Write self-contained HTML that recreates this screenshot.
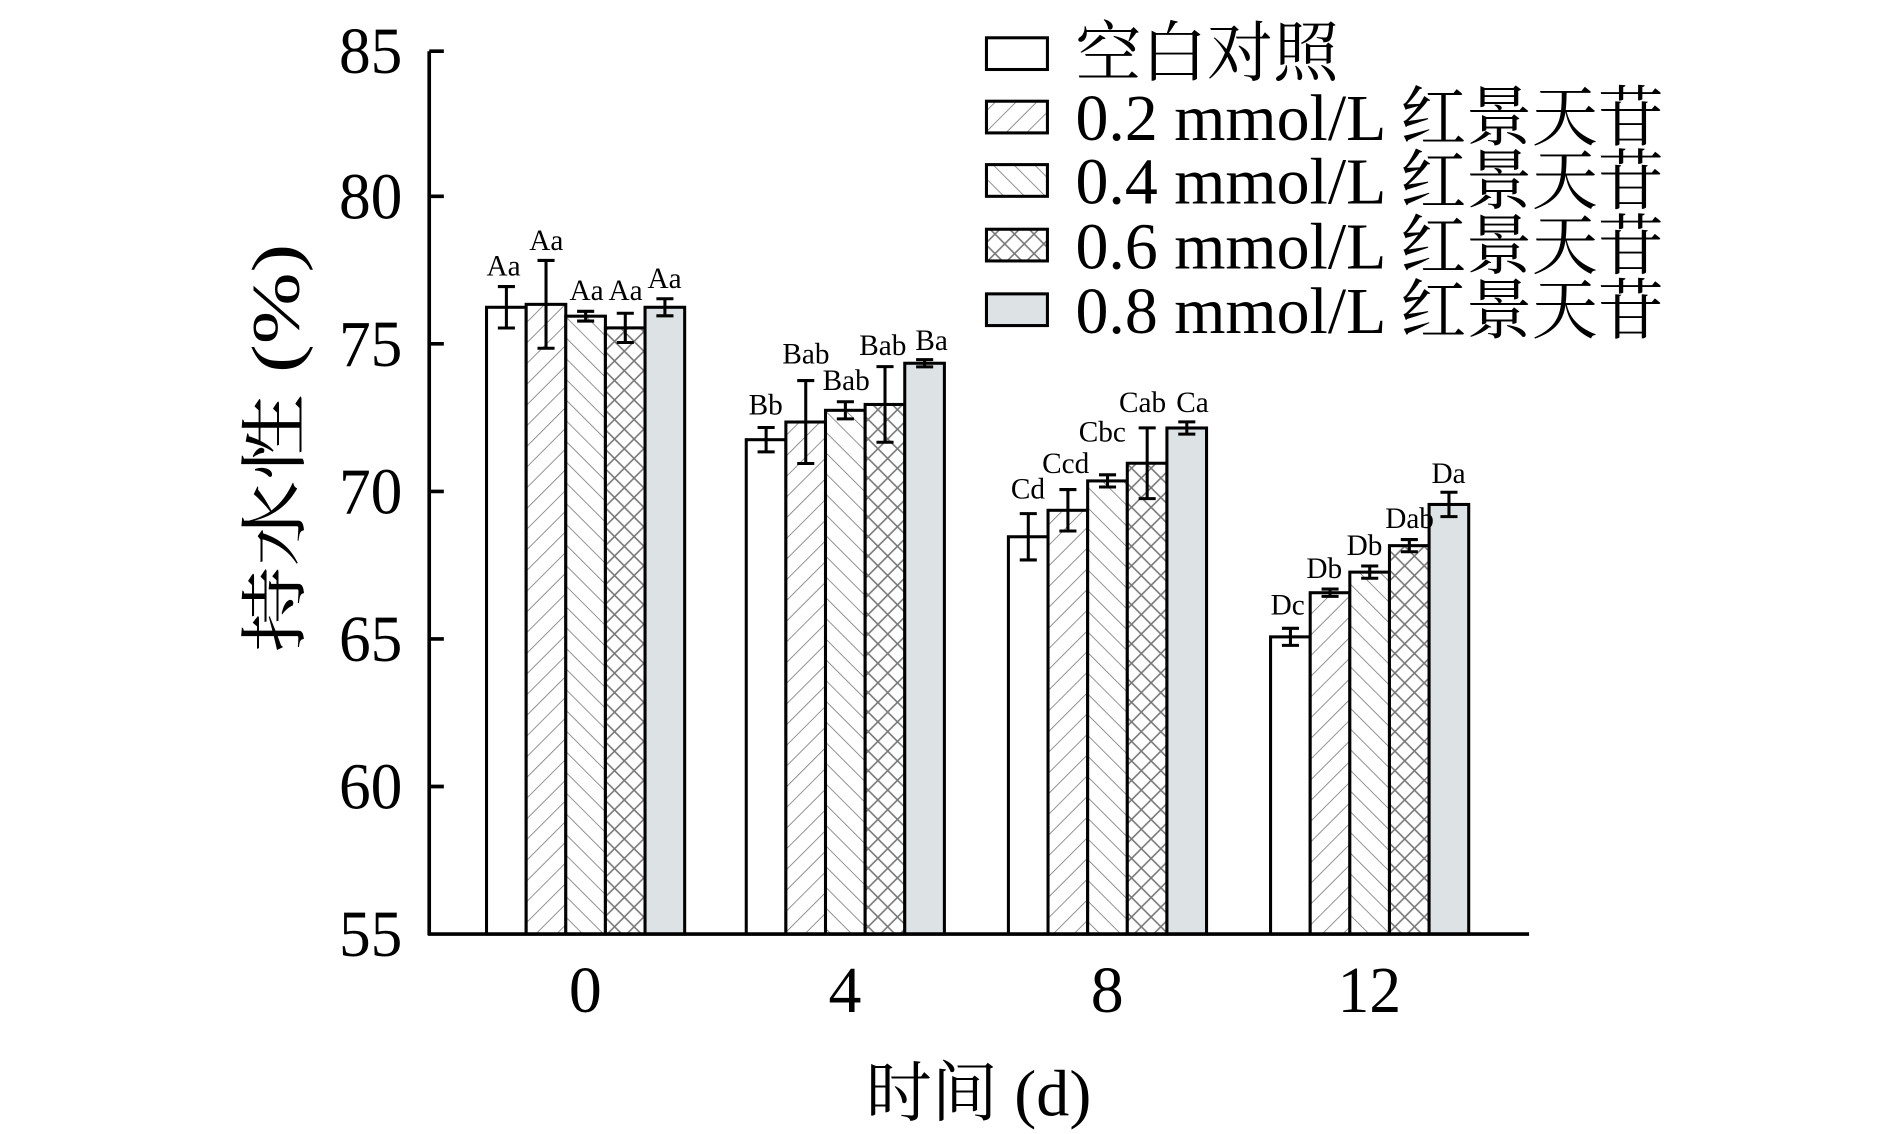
<!DOCTYPE html>
<html><head><meta charset="utf-8"><style>
html,body{margin:0;padding:0;background:#fff;}
svg{display:block;}
text{font-family:"Liberation Serif","Noto Serif CJK SC","Noto Sans CJK SC",serif;fill:#000;}
</style></head><body>
<svg width="1890" height="1134" viewBox="0 0 1550 930" xmlns="http://www.w3.org/2000/svg">
<defs>
<pattern id="p2" width="12" height="12" patternUnits="userSpaceOnUse" patternTransform="rotate(45)"><rect width="12" height="12" fill="#fff"/><line x1="0" y1="0" x2="0" y2="12" stroke="#777" stroke-width="1.3"/></pattern>
<pattern id="p4" width="12" height="12" patternUnits="userSpaceOnUse" patternTransform="rotate(-45)"><rect width="12" height="12" fill="#fff"/><line x1="0" y1="0" x2="0" y2="12" stroke="#777" stroke-width="1.3"/></pattern>
<pattern id="p6" width="16" height="16" patternUnits="userSpaceOnUse"><rect width="16" height="16" fill="#fff"/><path d="M0 0L16 16M16 0L0 16" stroke="#777" stroke-width="1.3"/></pattern>
</defs>
<g stroke="#000" stroke-width="2.5">
<rect x="399" y="252" width="32.5" height="514" fill="#fff"/>
<rect x="431.5" y="249.6" width="32.5" height="516.4" fill="url(#p2)"/>
<rect x="464" y="259.3" width="32.5" height="506.7" fill="url(#p4)"/>
<rect x="496.5" y="268.9" width="32.5" height="497.1" fill="url(#p6)"/>
<rect x="529" y="252" width="32.5" height="514" fill="#dde3e5"/>
<rect x="612" y="360.6" width="32.5" height="405.4" fill="#fff"/>
<rect x="644.5" y="346.1" width="32.5" height="419.9" fill="url(#p2)"/>
<rect x="677" y="336.5" width="32.5" height="429.5" fill="url(#p4)"/>
<rect x="709.5" y="331.7" width="32.5" height="434.3" fill="url(#p6)"/>
<rect x="742" y="297.9" width="32.5" height="468.1" fill="#dde3e5"/>
<rect x="827" y="440.2" width="32.5" height="325.8" fill="#fff"/>
<rect x="859.5" y="418.5" width="32.5" height="347.5" fill="url(#p2)"/>
<rect x="892" y="394.4" width="32.5" height="371.6" fill="url(#p4)"/>
<rect x="924.5" y="379.9" width="32.5" height="386.1" fill="url(#p6)"/>
<rect x="957" y="351" width="32.5" height="415" fill="#dde3e5"/>
<rect x="1042" y="522.3" width="32.5" height="243.7" fill="#fff"/>
<rect x="1074.5" y="486.1" width="32.5" height="279.9" fill="url(#p2)"/>
<rect x="1107" y="469.2" width="32.5" height="296.8" fill="url(#p4)"/>
<rect x="1139.5" y="447.5" width="32.5" height="318.5" fill="url(#p6)"/>
<rect x="1172" y="413.7" width="32.5" height="352.3" fill="#dde3e5"/>
</g>
<g stroke="#000" stroke-width="2.5" fill="none">
<path d="M415.3 235V269M408.3 235H422.3M408.3 269H422.3"/>
<path d="M447.8 213.6V285.6M440.8 213.6H454.8M440.8 285.6H454.8"/>
<path d="M480.3 255.3V263.3M473.3 255.3H487.3M473.3 263.3H487.3"/>
<path d="M512.8 256.9V280.9M505.8 256.9H519.8M505.8 280.9H519.8"/>
<path d="M545.3 245V259M538.3 245H552.3M538.3 259H552.3"/>
<path d="M628.3 350.6V370.6M621.3 350.6H635.3M621.3 370.6H635.3"/>
<path d="M660.8 312.1V380.1M653.8 312.1H667.8M653.8 380.1H667.8"/>
<path d="M693.3 329.5V343.5M686.3 329.5H700.3M686.3 343.5H700.3"/>
<path d="M725.8 300.7V362.7M718.8 300.7H732.8M718.8 362.7H732.8"/>
<path d="M758.3 294.9V300.9M751.3 294.9H765.3M751.3 300.9H765.3"/>
<path d="M843.3 421.2V459.2M836.3 421.2H850.3M836.3 459.2H850.3"/>
<path d="M875.8 401.5V435.5M868.8 401.5H882.8M868.8 435.5H882.8"/>
<path d="M908.3 389.4V399.4M901.3 389.4H915.3M901.3 399.4H915.3"/>
<path d="M940.8 350.9V408.9M933.8 350.9H947.8M933.8 408.9H947.8"/>
<path d="M973.3 346V356M966.3 346H980.3M966.3 356H980.3"/>
<path d="M1058.3 515.3V529.3M1051.3 515.3H1065.3M1051.3 529.3H1065.3"/>
<path d="M1090.8 483.1V489.1M1083.8 483.1H1097.8M1083.8 489.1H1097.8"/>
<path d="M1123.3 464.2V474.2M1116.3 464.2H1130.3M1116.3 474.2H1130.3"/>
<path d="M1155.8 442.5V452.5M1148.8 442.5H1162.8M1148.8 452.5H1162.8"/>
<path d="M1188.3 403.7V423.7M1181.3 403.7H1195.3M1181.3 423.7H1195.3"/>
</g>
<g font-size="24" text-anchor="middle">
<text x="413" y="226">Aa</text><text x="448" y="205">Aa</text><text x="481" y="246">Aa</text><text x="513" y="246">Aa</text><text x="545" y="236">Aa</text>
<text x="628" y="340">Bb</text><text x="661" y="298">Bab</text><text x="694" y="320">Bab</text><text x="724" y="291">Bab</text><text x="764" y="287">Ba</text>
<text x="843" y="409">Cd</text><text x="874" y="388">Ccd</text><text x="904" y="362">Cbc</text><text x="937" y="338">Cab</text><text x="978" y="338">Ca</text>
<text x="1056" y="504">Dc</text><text x="1086" y="474">Db</text><text x="1119" y="455">Db</text><text x="1156" y="433">Dab</text><text x="1188" y="396">Da</text>
</g>
<g stroke="#000" stroke-width="3" fill="none">
<path d="M352 42V767M351 766H1254"/>
<path d="M352 42H364M352 161H364M352 282H364M352 403H364M352 524H364M352 645H364"/>
</g>
<g font-size="54" text-anchor="end">
<text x="330" y="60" textLength="52" lengthAdjust="spacingAndGlyphs">85</text>
<text x="330" y="179" textLength="52" lengthAdjust="spacingAndGlyphs">80</text>
<text x="330" y="300" textLength="52" lengthAdjust="spacingAndGlyphs">75</text>
<text x="330" y="421" textLength="52" lengthAdjust="spacingAndGlyphs">70</text>
<text x="330" y="542" textLength="52" lengthAdjust="spacingAndGlyphs">65</text>
<text x="330" y="663" textLength="52" lengthAdjust="spacingAndGlyphs">60</text>
<text x="330" y="784" textLength="52" lengthAdjust="spacingAndGlyphs">55</text>
</g>
<g font-size="54" text-anchor="middle">
<text x="480" y="830">0</text><text x="693" y="830">4</text><text x="908" y="830">8</text><text x="1123" y="830" textLength="52" lengthAdjust="spacingAndGlyphs">12</text>
</g>
<text x="710" y="915" font-size="54" textLength="185" lengthAdjust="spacingAndGlyphs">时间 (d)</text>
<text transform="translate(245,535) rotate(-90)" font-size="56" textLength="335" lengthAdjust="spacingAndGlyphs">持水性 (%)</text>
<g stroke="#000" stroke-width="2.5">
<rect x="809" y="31" width="50" height="26" fill="#fff"/>
<rect x="809" y="83" width="50" height="26" fill="url(#p2)"/>
<rect x="809" y="135" width="50" height="26" fill="url(#p4)"/>
<rect x="809" y="188" width="50" height="26" fill="url(#p6)"/>
<rect x="809" y="241" width="50" height="26" fill="#dde3e5"/>
</g>
<g font-size="54">
<text x="882" y="62">空白对照</text>
<text x="882" y="115">0.2 mmol/L 红景天苷</text>
<text x="882" y="167">0.4 mmol/L 红景天苷</text>
<text x="882" y="220">0.6 mmol/L 红景天苷</text>
<text x="882" y="273">0.8 mmol/L 红景天苷</text>
</g>
</svg>
</body></html>
